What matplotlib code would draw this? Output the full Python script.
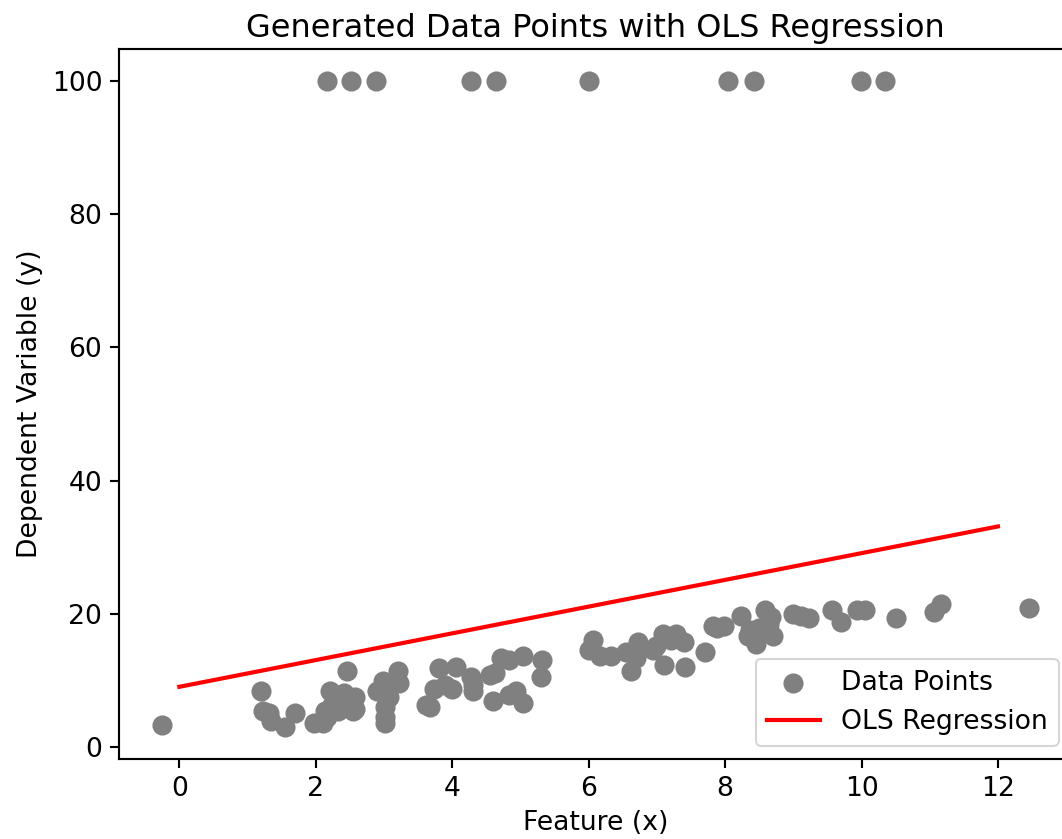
import matplotlib
matplotlib.use("Agg")
import matplotlib.pyplot as plt

# regular points
x_points = [-0.25, 1.20, 1.22, 1.31, 1.35, 1.55, 1.70, 1.97, 2.10, 2.14, 2.17, 2.21, 2.24,
            2.28, 2.32, 2.35, 2.42, 2.45, 2.50, 2.54, 2.58, 2.58, 2.89, 2.99, 3.01, 3.02,
            3.02, 3.08, 3.21, 3.22, 3.61, 3.67, 3.73, 3.80, 3.90, 3.99, 4.06, 4.28, 4.30,
            4.31, 4.55, 4.62, 4.60, 4.72, 4.83, 4.83, 4.93, 5.03, 5.03, 5.30, 5.32, 6.01,
            6.06, 6.16, 6.32, 6.54, 6.62, 6.70, 6.73, 6.94, 6.98, 7.09, 7.10, 7.20, 7.28,
            7.40, 7.41, 7.70, 7.82, 7.88, 7.99, 8.24, 8.33, 8.37, 8.46, 8.49, 8.58, 8.64,
            8.67, 8.70, 8.99, 9.11, 9.23, 9.56, 9.70, 9.93, 10.05, 10.50, 11.06, 11.16, 12.45]
y_points = [3.2, 8.3, 5.4, 5.1, 3.8, 3.0, 5.0, 3.6, 3.6, 5.4, 4.5, 8.4, 6.2,
            6.9, 5.4, 7.5, 8.1, 11.4, 6.9, 5.4, 5.7, 7.5, 8.4, 9.9, 5.9, 4.4,
            3.6, 7.4, 11.4, 9.6, 6.2, 5.9, 8.7, 11.9, 9.3, 8.7, 12.0, 10.5, 8.4,
            9.2, 10.7, 11.1, 6.9, 13.4, 13.1, 7.7, 8.4, 13.6, 6.5, 10.4, 13.0, 14.6,
            16.0, 13.6, 13.6, 14.2, 11.4, 13.4, 15.8, 14.5, 15.1, 16.9, 12.3, 16.0, 16.9,
            15.7, 12.0, 14.2, 18.2, 17.8, 18.2, 19.7, 16.6, 17.5, 15.4, 17.8, 20.5, 18.4,
            19.5, 16.6, 19.9, 19.7, 19.4, 20.6, 18.7, 20.5, 20.5, 19.3, 20.2, 21.4, 20.8]

# outliers at the top
x_outliers = [2.17, 2.52, 2.88, 4.28, 4.64, 6.01, 8.04, 8.43, 9.99, 10.34]
y_outliers = [100] * len(x_outliers)

# OLS fit line as drawn
line_x = [0, 12]
line_y = [9.0, 33.1]

k = 1.28  # the original was drawn at a larger scale
plt.rcParams.update({
    "font.size": 10 * k,
    "axes.titlesize": 12 * k,
    "axes.linewidth": 0.8 * k,
    "xtick.major.size": 3.5 * k,
    "ytick.major.size": 3.5 * k,
    "xtick.major.width": 0.8 * k,
    "ytick.major.width": 0.8 * k,
})

W, H = 1062, 839
fig = plt.figure(figsize=(W / 150, H / 150), dpi=150)
# the right spine sits just past the image edge in the reference (cropped)
ax = fig.add_axes([119 / W, 1 - 759 / H, 953 / W, 710 / H])

ax.scatter(x_points + x_outliers, y_points + y_outliers, color="gray", s=75, label="Data Points")
ax.plot(line_x, line_y, color="red", linewidth=2, label="OLS Regression")

ax.set_xlim(-0.885, 13.085)
ax.set_ylim(-1.85, 104.85)
ax.set_xlabel("Feature (x)")
ax.set_ylabel("Dependent Variable (y)")
ax.set_title("Generated Data Points with OLS Regression")
ax.legend(loc="lower right")

fig.savefig("out.png", dpi=150)
